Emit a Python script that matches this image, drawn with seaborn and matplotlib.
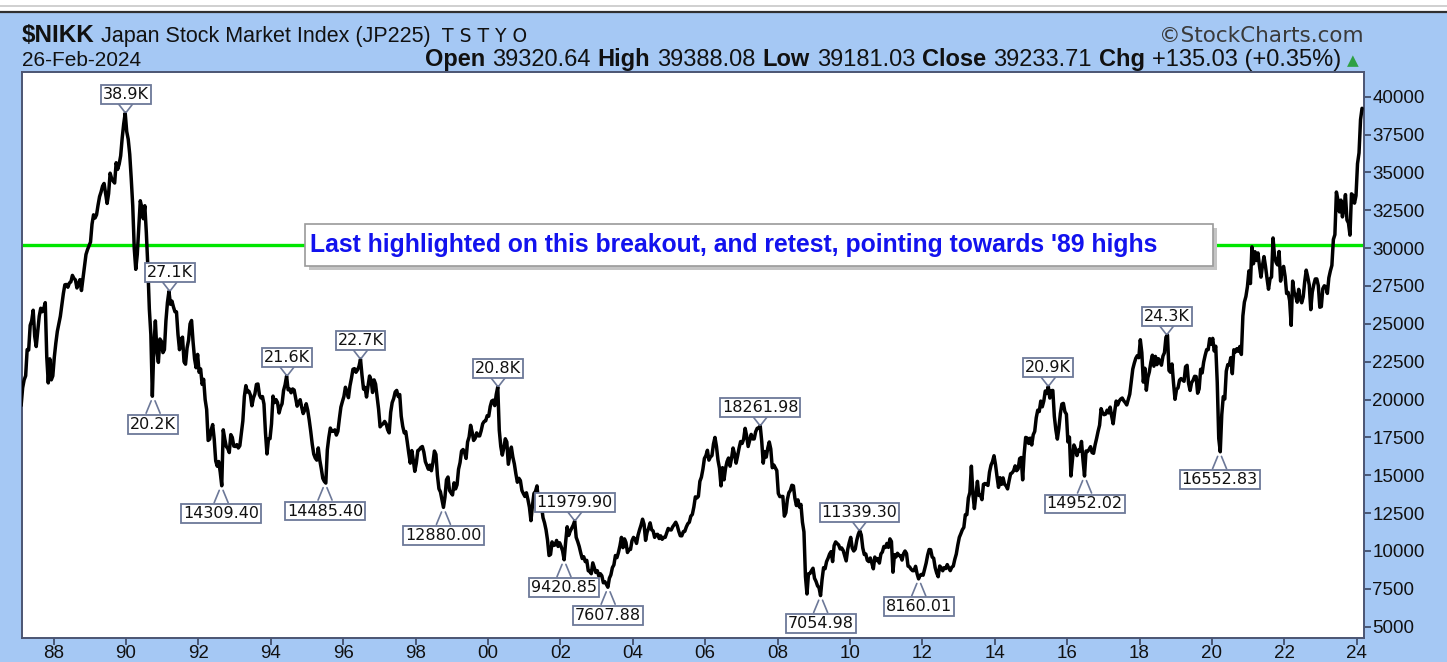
import numpy as np
import pandas as pd
import matplotlib
matplotlib.use("Agg")
import matplotlib.pyplot as plt
import seaborn as sns
from matplotlib.patches import Rectangle
from matplotlib.lines import Line2D

# ---------------- data (semi-monthly closes) ----------------
start_half = {1987: 2}   # 1987 series starts in February
y1987 = [19600, 20770, 21300, 21570, 23300, 23270, 24900, 25200, 25900, 24180, 23500, 24490,
         25500, 26030, 25800, 26010, 26400, 22800, 21100, 22690, 21300, 21560]
y1988 = [22800, 23720, 24500, 25010, 25500, 26260, 27000, 27580, 27600, 27420, 27700, 27770,
         28200, 28000, 27900, 27370, 27600, 27920, 27200, 28000, 28800, 29580, 29900, 30160]
y1989 = [30400, 31580, 32200, 31990, 32200, 32840, 33400, 33710, 34100, 34270, 33600, 32950,
         33600, 34950, 34600, 34430, 34300, 35640, 35200, 35550, 36100, 37270, 38200, 38916]
y1990 = [37700, 37190, 36200, 34590, 32800, 29980, 28600, 29580, 31400, 33130, 32700, 31940,
         32800, 31040, 28800, 25980, 24300, 20221, 23500, 25194, 23200, 22454, 24000, 23849]
y1991 = [23100, 23293, 25200, 26409, 27146, 26292, 26500, 26111, 25800, 25790, 24300, 23291,
         24000, 24120, 22500, 22336, 23400, 23916, 25000, 25222, 23800, 22687, 22100, 22984]
y1992 = [21800, 22023, 21000, 21339, 20000, 19346, 17300, 17391, 18000, 18348, 17400, 15951,
         15600, 15910, 15200, 14309, 18000, 17399, 16900, 16767, 16500, 17684, 17500, 16925]
y1993 = [16900, 17024, 16800, 16953, 17800, 18591, 20200, 20919, 20500, 20552, 20300, 19590,
         20100, 20380, 21000, 21027, 20300, 20106, 20200, 19703, 17800, 16408, 17400, 17417]
y1994 = [18400, 20229, 19800, 19997, 19800, 19112, 19500, 19725, 20600, 20974, 21552, 20644,
         20700, 20449, 20700, 20629, 20100, 19564, 19800, 19990, 19500, 19076, 19300, 19723]
y1995 = [19300, 18650, 17900, 17053, 16400, 16140, 16000, 16807, 16000, 15437, 14800, 14600,
         14485, 16678, 17500, 18117, 17900, 17913, 18000, 17655, 17900, 18744, 19500, 19868]
y1996 = [20200, 20813, 20500, 20125, 20900, 21407, 22000, 22041, 21800, 21956, 22200, 22666,
         21600, 20693, 20800, 20167, 20900, 21556, 21300, 20467, 21300, 21020, 20200, 19361]
y1997 = [18200, 18330, 18400, 18557, 18400, 18003, 17800, 19151, 19800, 20069, 20500, 20605,
         20200, 20331, 18900, 18229, 17800, 17888, 17200, 16459, 15800, 16631, 16000, 15259]
y1998 = [15800, 16628, 16700, 16832, 16900, 16527, 15900, 15641, 15400, 15671, 15300, 15831,
         16600, 16379, 15000, 14108, 13900, 13406, 12880, 13565, 14700, 14884, 14000, 13842]
y1999 = [13700, 14500, 14100, 14368, 15400, 15837, 16600, 16701, 16500, 16112, 17200, 17530,
         18300, 17862, 17300, 17437, 17800, 17605, 17600, 17943, 18400, 18558, 18600, 18934]
y2000 = [18900, 19540, 19900, 19960, 19600, 20337, 20833, 17974, 16900, 16332, 16800, 17411,
         17200, 15727, 16300, 16861, 16200, 15747, 15100, 14539, 14800, 14649, 14000, 13786]
y2001 = [13600, 13843, 13400, 12884, 12000, 12999, 13800, 13934, 14300, 13262, 12800, 12969,
         12200, 11861, 11400, 10714, 9700, 9775, 10600, 10366, 10400, 10697, 10300, 10543]
y2002 = [10300, 9997, 9420, 10588, 11600, 11025, 11300, 11493, 11700, 11979, 10900, 10622,
         10300, 9878, 9500, 9620, 9300, 9383, 8700, 8640, 8500, 9216, 8900, 8579]
y2003 = [8700, 8340, 8500, 8363, 7900, 7973, 7800, 7607, 8200, 8425, 8900, 9083,
         9700, 9563, 9900, 10343, 10900, 10219, 10800, 10560, 9900, 10101, 10100, 10677]
y2004 = [10900, 10784, 10500, 11042, 11400, 11715, 12100, 11761, 10700, 11236, 11500, 11858,
         11400, 11326, 10900, 11082, 11100, 10824, 11000, 10771, 10900, 10899, 11200, 11489]
y2005 = [11400, 11388, 11600, 11741, 11900, 11669, 11300, 11009, 11000, 11277, 11300, 11584,
         11800, 11900, 12300, 12414, 12900, 13574, 13500, 13607, 14600, 14872, 15400, 16111]
y2006 = [16300, 16650, 16000, 16205, 16300, 17060, 17500, 16906, 16000, 15467, 14300, 15505,
         14700, 15457, 15900, 16140, 15600, 16128, 16800, 16399, 15800, 16274, 16800, 17226]
y2007 = [17100, 17383, 18100, 17604, 16900, 17288, 17700, 17400, 17400, 17876, 18100, 18138,
         18262, 17248, 15800, 16569, 16200, 16786, 17200, 16737, 15500, 15681, 15500, 15308]
y2008 = [13800, 13592, 13600, 13604, 12300, 12526, 13400, 13850, 14000, 14339, 14300, 13481,
         13000, 13377, 12900, 13073, 11900, 11260, 8300, 7162, 8500, 8512, 8700, 8860]
y2009 = [8200, 7994, 7700, 7568, 7055, 8110, 8900, 8828, 9300, 9523, 9800, 9958,
         9300, 10357, 10600, 10493, 10400, 10133, 10200, 10035, 9700, 9346, 10100, 10546]
y2010 = [10900, 10198, 10000, 10126, 10700, 11090, 11339, 11057, 10200, 9769, 9800, 9383,
         9300, 9537, 9200, 8824, 9600, 9369, 9500, 9202, 9800, 9937, 10300, 10229]
y2011 = [10500, 10238, 10800, 10624, 8600, 9755, 9600, 9850, 9700, 9694, 9400, 9816,
         10000, 9833, 9000, 8955, 8800, 8700, 8700, 8988, 8500, 8160, 8400, 8455]
y2012 = [8400, 8803, 9200, 9723, 10100, 10084, 9600, 9521, 8900, 8543, 8300, 9007,
         8900, 8695, 8900, 8840, 9100, 8870, 8700, 8928, 9000, 9446, 9800, 10395]
y2013 = [10900, 11139, 11400, 11559, 12400, 12398, 13500, 13861, 15600, 13775, 12800, 13677,
         14600, 13668, 13700, 13389, 14400, 14456, 14400, 14328, 15200, 15662, 15900, 16291]
y2014 = [15700, 14915, 14200, 14841, 14400, 14828, 14400, 14304, 14100, 14632, 15100, 15162,
         15300, 15621, 15300, 15425, 16100, 16174, 14700, 16414, 17500, 17460, 17100, 17451]
y2015 = [17000, 17674, 17900, 18798, 19300, 19207, 19900, 19520, 19900, 20563, 20400, 20868,
         20100, 20585, 20600, 18890, 18000, 17388, 18100, 19083, 19700, 19747, 19200, 19034]
y2016 = [17200, 17518, 14953, 16027, 17000, 16759, 16300, 16666, 16600, 17235, 16000, 14952,
         16600, 16569, 16700, 16887, 16500, 16450, 17000, 17425, 17900, 18308, 19400, 19114]
y2017 = [19000, 19041, 19300, 19119, 19500, 18909, 18400, 19197, 19900, 19651, 19900, 20033,
         20100, 19925, 19800, 19646, 20000, 20356, 21200, 22012, 22400, 22725, 22900, 22765]
y2018 = [23951, 23098, 21154, 22068, 20617, 21454, 21836, 22468, 22930, 22202, 22852, 22305,
         22697, 22554, 22270, 22865, 23094, 24120, 24270, 21920, 21803, 22351, 21115, 20015]
y2019 = [20666, 20773, 21281, 21385, 21287, 21206, 22169, 22259, 21067, 20601, 21116, 21276,
         21535, 21521, 20418, 20704, 22001, 21756, 22473, 22927, 23303, 23294, 24023, 23657]
y2020 = [24041, 23205, 23523, 21143, 17431, 16552, 19000, 20194, 20037, 21878, 22306, 22288,
         22770, 21710, 23289, 23140, 23360, 23185, 23507, 22977, 25527, 26434, 26806, 27444]
y2021 = [28500, 27663, 30084, 28966, 29767, 29179, 29683, 28813, 28084, 28860, 29441, 28792,
         28003, 27284, 27977, 28090, 30670, 29453, 29069, 28893, 29776, 27822, 28545, 28792]
y2022 = [28124, 27002, 27079, 26527, 24900, 27821, 27093, 26848, 26428, 27280, 26630, 26393,
         26788, 27802, 28547, 28092, 27568, 25937, 27090, 27587, 27963, 27969, 27527, 26095]
y2023 = [26138, 27327, 27513, 27446, 27010, 28041, 28493, 28856, 30573, 30888, 33706, 33189,
         32391, 33172, 32060, 32619, 33533, 31858, 31659, 30858, 33585, 33486, 32970, 33464]
y2024 = [35578, 36287, 38487, 39233]

series = {1987: y1987, 1988: y1988, 1989: y1989, 1990: y1990, 1991: y1991, 1992: y1992,
          1993: y1993, 1994: y1994, 1995: y1995, 1996: y1996, 1997: y1997, 1998: y1998,
          1999: y1999, 2000: y2000, 2001: y2001, 2002: y2002, 2003: y2003, 2004: y2004,
          2005: y2005, 2006: y2006, 2007: y2007, 2008: y2008, 2009: y2009, 2010: y2010,
          2011: y2011, 2012: y2012, 2013: y2013, 2014: y2014, 2015: y2015, 2016: y2016,
          2017: y2017, 2018: y2018, 2019: y2019, 2020: y2020, 2021: y2021, 2022: y2022,
          2023: y2023, 2024: y2024}

# annotated swing points: (decimal year, value, label, kind)
label_dates = [1989.99, 1991.21, 1990.75, 1992.63, 1994.45, 1995.50, 1996.48, 1998.77,
               2000.28, 2002.40, 2002.10, 2003.32, 2007.52, 2009.19, 2010.26, 2011.90,
               2015.48, 2016.48, 2018.75, 2020.21]
label_values = [38916, 27146, 20221, 14309.40, 21552, 14485.40, 22666, 12880.00,
                20833, 11979.90, 9420.85, 7607.88, 18261.98, 7054.98, 11339.30, 8160.01,
                20868, 14952.02, 24270, 16552.83]
label_texts = ["38.9K", "27.1K", "20.2K", "14309.40", "21.6K", "14485.40", "22.7K", "12880.00",
               "20.8K", "11979.90", "9420.85", "7607.88", "18261.98", "7054.98", "11339.30",
               "8160.01", "20.9K", "14952.02", "24.3K", "16552.83"]
label_kinds = ["high", "high", "low", "low", "high", "low", "high", "low",
               "high", "high", "low", "low", "high", "low", "high", "low",
               "high", "low", "high", "low"]

breakout_level = 30200
y_ticks = list(range(5000, 40001, 2500))
x_years = list(range(1988, 2025, 2))
x_labels = [f"{y % 100:02d}" for y in x_years]

# ---------------- build frame ----------------
rows = []
for yr, vals in series.items():
    k0 = start_half.get(yr, 0)
    for k, v in enumerate(vals):
        rows.append({"t": yr + (k0 + k + 0.5) / 24.0, "close": v})
df = pd.DataFrame(rows)

# ---------------- figure ----------------
W, H = 1447, 662
BG = "#a5c8f4"
sns.set_style("white")
plt.rcParams["font.family"] = ["Liberation Sans", "DejaVu Sans"]

fig = plt.figure(figsize=(W / 100, H / 100), dpi=100)
fig.patch.set_facecolor(BG)

# top strip
fig.add_artist(Rectangle((0, 1 - 11 / H), 1, 11 / H, transform=fig.transFigure,
                         facecolor="white", edgecolor="none"))
fig.add_artist(Line2D([0, 1], [1 - 6 / H, 1 - 6 / H], transform=fig.transFigure,
                      color="#c8c8c8", lw=1.2))
fig.add_artist(Line2D([0, 1], [1 - 12 / H, 1 - 12 / H], transform=fig.transFigure,
                      color="#303030", lw=1.6))

left, right, top, bottom = 21.7, 1364, 72, 638
ax = fig.add_axes([left / W, (H - bottom) / H, (right - left) / W, (bottom - top) / H])
ax.set_facecolor("white")

ax.axhline(breakout_level, color="#00e600", lw=2.4, zorder=1)
sns.lineplot(data=df, x="t", y="close", color="black", lw=2.5, ax=ax, zorder=3)

ax.set_xlim(1987.12, 2024.2)
ax.set_ylim(4254, 41631)
ax.set_xlabel("")
ax.set_ylabel("")

ax.yaxis.tick_right()
ax.set_yticks(y_ticks)
ax.set_yticklabels([str(v) for v in y_ticks])
ax.set_xticks(x_years)
ax.set_xticklabels(x_labels)
ax.tick_params(axis="both", which="both", direction="out", length=5, width=1.2,
               color="#3a4460", labelsize=13.5, labelcolor="#111111", pad=1)
ax.tick_params(axis="y", right=True, left=False)
ax.tick_params(axis="x", bottom=True, pad=0)
for s in ax.spines.values():
    s.set_color("#4b5573")
    s.set_linewidth(1.4)
    s.set_visible(True)

# swing labels
edge = "#6c7898"
for t, v, txt, kind in zip(label_dates, label_values, label_texts, label_kinds):
    if kind == "high":
        tip, arm, off = 1, 9, 18.5
    else:
        tip, arm, off = -5, -17, -28
    for dx in (-7, 7):
        ax.annotate("", xy=(t, v), xycoords="data",
                    xytext=(dx, arm), textcoords="offset pixels",
                    arrowprops=dict(arrowstyle="-", color=edge, lw=1.2,
                                    shrinkA=0, shrinkB=abs(tip) * 0.72),
                    zorder=5)
    ax.annotate(txt, xy=(t, v), xycoords="data", xytext=(0, off),
                textcoords="offset pixels", ha="center", va="center",
                fontsize=11.5, family="DejaVu Sans", color="#111111",
                bbox=dict(boxstyle="square,pad=0.12", fc="white", ec=edge, lw=1.3),
                zorder=6)

# breakout comment box
bx0, bx1 = (305 - left) / (right - left), (1213 - left) / (right - left)
by0, by1 = (bottom - 266) / (bottom - top), (bottom - 224) / (bottom - top)
sh_x, sh_y = 4 / (right - left), 4 / (bottom - top)
ax.add_patch(Rectangle((bx0 + sh_x, by0 - sh_y), bx1 - bx0, by1 - by0, transform=ax.transAxes,
                       facecolor="#c4c4c4", edgecolor="none", zorder=7))
ax.add_patch(Rectangle((bx0, by0), bx1 - bx0, by1 - by0, transform=ax.transAxes,
                       facecolor="white", edgecolor="#9a9a9a", lw=1.2, zorder=8))
ax.text((310 - left) / (right - left), (by0 + by1) / 2,
        "Last highlighted on this breakout, and retest, pointing towards '89 highs",
        transform=ax.transAxes, ha="left", va="center", fontsize=17.8, fontweight="bold",
        color="#1212ee", zorder=9)

# ---------------- header ----------------
def fx(px):
    return px / W

def fy(py):
    return 1 - py / H

renderer = fig.canvas.get_renderer()

def chain(x0, y0, parts, size, gap=7):
    x = x0
    for txt, bold in parts:
        t = fig.text(fx(x), fy(y0), txt, fontsize=size, fontweight="bold" if bold else "normal",
                     color="#111111", ha="left", va="baseline")
        bb = t.get_window_extent(renderer)
        x = bb.x1 + gap
    return x

xn = chain(22, 42, [("$NIKK", True)], 17.5, gap=6)
xj = chain(xn, 42, [("Japan Stock Market Index (JP225)", False)], 15.5, gap=12)
fig.text(fx(xj), fy(42), "T S T Y O", fontsize=13.5, family="DejaVu Sans",
         color="#111111", ha="left", va="baseline")
fig.text(fx(22), fy(66), "26-Feb-2024", fontsize=15, color="#111111",
         ha="left", va="baseline")
xend = chain(425, 66, [("Open", True), ("39320.64", False), ("High", True), ("39388.08", False),
                       ("Low", True), ("39181.03", False), ("Close", True), ("39233.71", False),
                       ("Chg", True), ("+135.03 (+0.35%)", False)], 17, gap=7)
fig.text(fx(1347), fy(61), "\u25B2", fontsize=11, color="#2ea043", family="DejaVu Sans",
         ha="left", va="center")
fig.text(fx(1364), fy(42), "\u00A9StockCharts.com", fontsize=15.5, family="DejaVu Sans",
         color="#3a3a3a", ha="right", va="baseline")

fig.savefig("out.png", dpi=100, facecolor=BG)
